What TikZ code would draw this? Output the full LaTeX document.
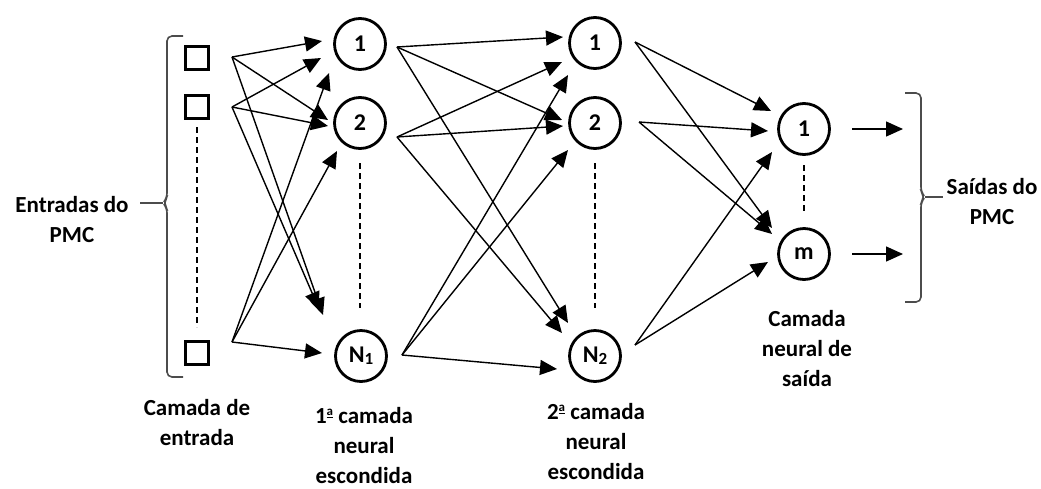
\documentclass[tikz,border=0pt]{standalone}
\usepackage{fontspec}
\setmainfont{Carlito}
\usetikzlibrary{arrows.meta}
\newcommand{\ordA}{\raisebox{8.5pt}{\fontsize{13}{13}\selectfont\underline{a}}}
\tikzset{
  neuron/.style={circle, draw, line width=2.8pt, minimum size=51pt, inner sep=0pt, font=\fontsize{24}{24}\selectfont\bfseries},
  inbox/.style={draw, line width=2.8pt, minimum size=23pt, inner sep=0pt},
  conn/.style={line width=1.4pt, -{Triangle[length=17pt,width=15pt]}},
  dots/.style={line width=1.3pt, dash pattern=on 6pt off 4pt},
  lbl/.style={align=center, inner sep=0pt, font=\fontsize{23}{30}\selectfont\bfseries},
  brk/.style={line width=1.6pt, draw=black!70, rounded corners=5pt},
}
\begin{document}
\begin{tikzpicture}[x=1pt,y=-1pt]
\useasboundingbox (0,0) rectangle (1041,488);

% input squares
\node[inbox] (sq1) at (197,58) {};
\node[inbox] (sq2) at (197,107) {};
\node[inbox] (sq3) at (197,353) {};
% hidden 1
\node[neuron] (h11) at (360,44) {1};
\node[neuron] (h12) at (360,123) {2};
\node[neuron] (h1N) at (361,356) {N\raisebox{-2pt}{\fontsize{17}{17}\selectfont 1}};
% hidden 2
\node[neuron] (h21) at (595,43) {1};
\node[neuron] (h22) at (595,123) {2};
\node[neuron] (h2N) at (595,356) {N\raisebox{-2pt}{\fontsize{17}{17}\selectfont 2}};
% output
\node[neuron] (o1) at (804,129) {1};
\node[neuron] (om) at (804,254) {m};

% dashed column lines
\coordinate (da1) at (197,127); \coordinate (da2) at (197,327);
\coordinate (db1) at (360,163); \coordinate (db2) at (360,308);
\coordinate (dc1) at (595,163); \coordinate (dc2) at (595,308);
\coordinate (dd1) at (804,165); \coordinate (dd2) at (804,213);
\draw[dots] (da1) -- (da2);
\draw[dots] (db1) -- (db2);
\draw[dots] (dc1) -- (dc2);
\draw[dots] (dd1) -- (dd2);

% source points
\coordinate (a1) at (232,57);
\coordinate (a2) at (232,107);
\coordinate (a3) at (232,342);
\coordinate (b1) at (397,47);
\coordinate (b2) at (397,137);
\coordinate (b3) at (402,355);
\coordinate (c1) at (635,42);
\coordinate (c2) at (639,122);
\coordinate (c3) at (635,345);

% tips into hidden 1
\coordinate (t111) at (322,41);
\coordinate (t112) at (328,120);
\coordinate (t11N) at (323,315);
\coordinate (t121) at (321,58);
\coordinate (t122) at (328,126);
\coordinate (t12N) at (319,309);
\coordinate (t131) at (329,73);
\coordinate (t132) at (337,151);
\coordinate (t13N) at (322,353);
\draw[conn] (a1) -- (t111);
\draw[conn] (a1) -- (t112);
\draw[conn] (a1) -- (t11N);
\draw[conn] (a2) -- (t121);
\draw[conn] (a2) -- (t122);
\draw[conn] (a2) -- (t12N);
\draw[conn] (a3) -- (t131);
\draw[conn] (a3) -- (t132);
\draw[conn] (a3) -- (t13N);

% tips into hidden 2
\coordinate (t211) at (563,37);
\coordinate (t212) at (562,120);
\coordinate (t21N) at (568,323);
\coordinate (t221) at (562,62);
\coordinate (t222) at (563,126);
\coordinate (t22N) at (562,333);
\coordinate (t231) at (568,75);
\coordinate (t232) at (568,150);
\coordinate (t23N) at (557,369);
\draw[conn] (b1) -- (t211);
\draw[conn] (b1) -- (t212);
\draw[conn] (b1) -- (t21N);
\draw[conn] (b2) -- (t221);
\draw[conn] (b2) -- (t222);
\draw[conn] (b2) -- (t22N);
\draw[conn] (b3) -- (t231);
\draw[conn] (b3) -- (t232);
\draw[conn] (b3) -- (t23N);

% tips into output
\coordinate (t311) at (771,111);
\coordinate (t31m) at (772,228);
\coordinate (t321) at (768,131);
\coordinate (t32m) at (772,234);
\coordinate (t331) at (772,152);
\coordinate (t33m) at (768,262);
\draw[conn] (c1) -- (t311);
\draw[conn] (c1) -- (t31m);
\draw[conn] (c2) -- (t321);
\draw[conn] (c2) -- (t32m);
\draw[conn] (c3) -- (t331);
\draw[conn] (c3) -- (t33m);

% output arrows
\coordinate (e1s) at (852,129); \coordinate (e1t) at (903,129);
\coordinate (e2s) at (852,254); \coordinate (e2t) at (903,254);
\draw[conn] (e1s) -- (e1t);
\draw[conn] (e2s) -- (e2t);

% brackets
\coordinate (lbtop) at (183,36);
\coordinate (lbbot) at (183,377);
\coordinate (lbtip) at (163,203);
\coordinate (lbend) at (140,203);
\draw[brk] (lbtop) -- (167,36) -- (167,198) -- (lbtip) -- (167,208) -- (167,377) -- (lbbot);
\draw[brk] (lbtip) -- (lbend);
\coordinate (rbtop) at (905,93);
\coordinate (rbbot) at (905,302);
\coordinate (rbtip) at (925,197);
\coordinate (rbend) at (943,197);
\draw[brk] (rbtop) -- (921,93) -- (921,192) -- (rbtip) -- (921,202) -- (921,302) -- (rbbot);
\draw[brk] (rbtip) -- (rbend);

% labels
\node[lbl] (lentr) at (72,220) {Entradas do\\PMC};
\node[lbl] (lsai) at (992,202) {Saídas do\\PMC};
\node[lbl] (lin) at (197,423) {Camada de\\entrada};
\node[lbl] (lh1) at (364,446) {1\ordA{} camada\\neural\\escondida};
\node[lbl] (lh2) at (596,442) {2\ordA{} camada\\neural\\escondida};
\node[lbl] (lout) at (807,349) {Camada\\neural de\\saída};
\end{tikzpicture}
\end{document}
